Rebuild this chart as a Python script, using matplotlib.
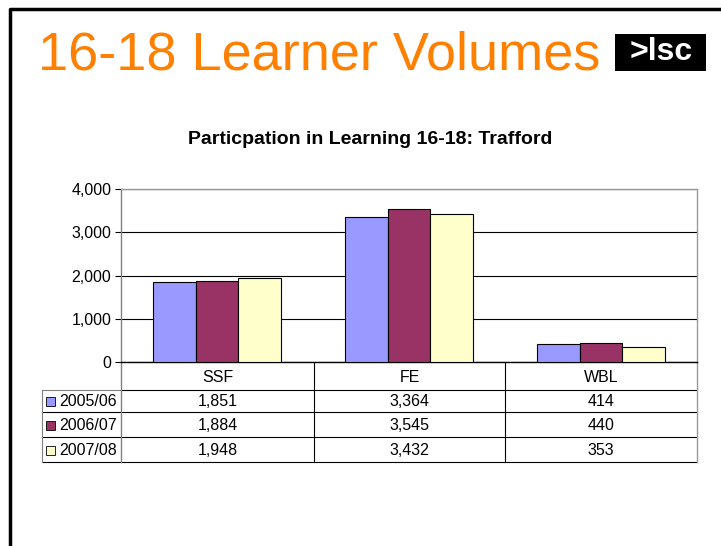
import matplotlib
matplotlib.use("Agg")
import matplotlib.pyplot as plt
import numpy as np
from matplotlib.patches import Rectangle

# --- data ---
categories = ["SSF", "FE", "WBL"]
years = ["2005/06", "2006/07", "2007/08"]
vals_0506 = [1851, 3364, 414]
vals_0607 = [1884, 3545, 440]
vals_0708 = [1948, 3432, 353]
colors = ["#9999FF", "#993366", "#FFFFCC"]
yticks = [0, 1000, 2000, 3000, 4000]

plt.rcParams['font.family'] = ['Liberation Sans', 'DejaVu Sans']

W, H = 721, 546
fig = plt.figure(figsize=(W / 100, H / 100), dpi=100)


def fx(px):
    return px / W


def fy(py):
    return 1 - py / H


# overlay axes in pixel coordinates for slide decoration + table
over = fig.add_axes([0, 0, 1, 1])
over.set_xlim(0, W)
over.set_ylim(H, 0)
over.axis("off")

# slide border (left + top)
over.plot([9.5, 9.5, W + 5], [H + 5, 8.5, 8.5], color="black", lw=2.5, solid_capstyle="butt")

# big title
over.text(38, 55, "16-18 Learner Volumes", color="#FF8000", fontsize=39,
          ha="left", va="center")

# logo
over.add_patch(Rectangle((615, 34), 91, 37, facecolor="black", edgecolor="none"))
over.text(661, 52, ">lsc", color="white", fontsize=23, fontweight="bold",
          ha="center", va="center")

# chart title
over.text(370, 140, "Particpation in Learning 16-18: Trafford", fontsize=14,
          fontweight="bold", ha="center", va="center")

# --- plot area ---
x0, x1, ytop, ybot = 121, 697, 189, 362
ax = fig.add_axes([fx(x0), fy(ybot), fx(x1) - fx(x0), fy(ytop) - fy(ybot)])
series = [vals_0506, vals_0607, vals_0708]
x = np.arange(len(categories))
bw = 0.222
for i, (vals, c) in enumerate(zip(series, colors)):
    ax.bar(x + (i - 1) * bw, vals, bw, color=c, edgecolor="black", linewidth=0.8, zorder=3)
ax.set_xlim(-0.5, len(categories) - 0.5)
ax.set_ylim(0, 4000)
ax.set_yticks(yticks)
ax.set_yticklabels([f"{v:,}" for v in yticks], fontsize=11.5)
ax.yaxis.grid(True, color="black", lw=0.8, zorder=0)
ax.set_xticks([])
ax.tick_params(axis="y", length=4, width=0.8, pad=3)
ax.spines["top"].set_color("#999999")
ax.spines["right"].set_color("#999999")
ax.spines["left"].set_color("#808080")
ax.spines["bottom"].set_color("black")
for s in ax.spines.values():
    s.set_linewidth(1.0)

# --- data table ---
tx0 = 42
col_edges = [x0, 314, 505, x1]
row_edges = [ybot, 390, 412, 437, 462]
lc = "black"
# horizontal lines
over.plot([x0, x1], [row_edges[1], row_edges[1]], color=lc, lw=0.8)
over.plot([tx0, x0], [row_edges[1], row_edges[1]], color="#808080", lw=0.8)
for yy in row_edges[2:]:
    over.plot([tx0, x1], [yy, yy], color=lc, lw=0.8)
# vertical lines
over.plot([tx0, tx0], [row_edges[1], row_edges[-1]], color="#808080", lw=0.8)
over.plot([x0, x0], [ybot, row_edges[-1]], color="#808080", lw=1.0)
for xx in col_edges[1:-1]:
    over.plot([xx, xx], [ybot, row_edges[-1]], color=lc, lw=0.8)
over.plot([x1, x1], [ybot, row_edges[-1]], color="#999999", lw=1.0)

fs = 11.5
for j, cat in enumerate(categories):
    cx = (col_edges[j] + col_edges[j + 1]) / 2
    over.text(cx, (row_edges[0] + row_edges[1]) / 2 + 1, cat, fontsize=fs,
              ha="center", va="center")
for i, (yr, vals, c) in enumerate(zip(years, series, colors)):
    cy = (row_edges[i + 1] + row_edges[i + 2]) / 2 + 1
    over.add_patch(Rectangle((46, cy - 5), 9, 9, facecolor=c, edgecolor="black", lw=0.6))
    over.text(59, cy, yr, fontsize=fs, ha="left", va="center")
    for j, v in enumerate(vals):
        cx = (col_edges[j] + col_edges[j + 1]) / 2
        over.text(cx, cy, f"{v:,}", fontsize=fs, ha="center", va="center")

fig.savefig("out.png", dpi=100, facecolor="white")
